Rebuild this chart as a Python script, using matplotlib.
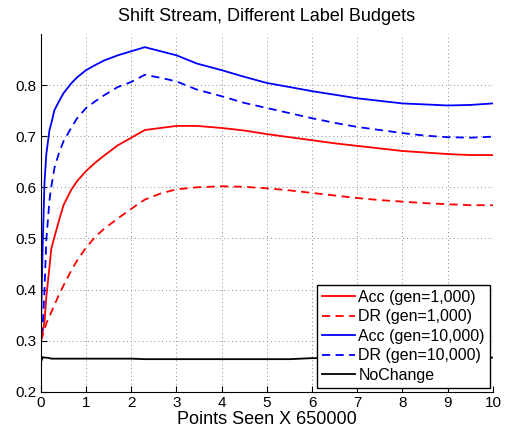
import matplotlib
matplotlib.use("Agg")
import matplotlib.pyplot as plt

plt.rcParams['font.family'] = ['Liberation Sans', 'DejaVu Sans']

# sample positions along the stream (units of 650000 points)
x = [0, 0.04, 0.08, 0.12, 0.19, 0.23, 0.3, 0.4, 0.5, 0.67, 0.8, 1.0, 1.2, 1.4, 1.7, 2.0, 2.3,
     2.65, 3.0, 3.45, 4.0, 4.5, 5.0, 5.5, 6, 6.5, 7, 7.5, 8, 8.5, 9, 9.5, 10]

acc_1k = [0.300, 0.318, 0.338, 0.386, 0.445, 0.480, 0.503, 0.535, 0.565, 0.595, 0.612, 0.632,
          0.648, 0.662, 0.682, 0.697, 0.712, 0.716, 0.720, 0.720, 0.716, 0.711, 0.704, 0.698,
          0.692, 0.686, 0.681, 0.676, 0.671, 0.668, 0.665, 0.663, 0.663]
dr_1k = [0.300, 0.310, 0.322, 0.334, 0.348, 0.356, 0.370, 0.390, 0.408, 0.437, 0.457, 0.482,
         0.503, 0.519, 0.539, 0.558, 0.576, 0.588, 0.596, 0.600, 0.602, 0.601, 0.598, 0.594,
         0.589, 0.584, 0.579, 0.575, 0.572, 0.569, 0.567, 0.565, 0.565]
acc_10k = [0.320, 0.490, 0.610, 0.665, 0.712, 0.725, 0.751, 0.768, 0.784, 0.803, 0.815, 0.829,
           0.839, 0.848, 0.858, 0.866, 0.874, 0.866, 0.858, 0.842, 0.829, 0.816, 0.804, 0.796,
           0.788, 0.781, 0.774, 0.769, 0.764, 0.762, 0.760, 0.761, 0.764]
dr_10k = [0.310, 0.330, 0.400, 0.497, 0.575, 0.601, 0.638, 0.667, 0.690, 0.716, 0.735, 0.755,
          0.768, 0.780, 0.796, 0.806, 0.820, 0.814, 0.807, 0.791, 0.778, 0.765, 0.755, 0.745,
          0.735, 0.726, 0.718, 0.712, 0.706, 0.701, 0.698, 0.697, 0.699]
no_change = [0.258, 0.268, 0.267, 0.267, 0.266, 0.265, 0.265, 0.265, 0.265, 0.265, 0.265, 0.265,
             0.265, 0.265, 0.265, 0.265, 0.264, 0.264, 0.264, 0.264, 0.264, 0.264, 0.264, 0.264,
             0.266, 0.266, 0.266, 0.266, 0.266, 0.266, 0.267, 0.267, 0.267]

series = [
    ("Acc (gen=1,000)", acc_1k, "#ff0000", "-"),
    ("DR (gen=1,000)", dr_1k, "#ff0000", "--"),
    ("Acc (gen=10,000)", acc_10k, "#0000ff", "-"),
    ("DR (gen=10,000)", dr_10k, "#0000ff", "--"),
    ("NoChange", no_change, "#000000", "-"),
]

fig = plt.figure(figsize=(5.05, 4.34), dpi=100)
ax = fig.add_axes([0.081, 0.097, 0.895, 0.825])

for label, y, color, ls in series:
    line, = ax.plot(x, y, color=color, linestyle=ls, lw=1.3, label=label)
    if ls == "--":
        line.set_dashes((4.5, 3))

ax.set_xlim(0, 10)
ax.set_ylim(0.2, 0.9)
ax.set_xticks(range(0, 11))
ax.set_yticks([0.2, 0.3, 0.4, 0.5, 0.6, 0.7, 0.8])
ax.set_yticklabels(["0.2", "0.3", "0.4", "0.5", "0.6", "0.7", "0.8"])

ax.grid(True, color="#888888", linestyle=(0, (1, 3)), lw=0.7)
ax.spines["top"].set_visible(False)
ax.spines["right"].set_visible(False)
ax.spines["left"].set_linewidth(0.8)
ax.spines["bottom"].set_linewidth(0.8)
ax.tick_params(direction="in", length=4, width=0.8, labelsize=11, pad=3)

ax.set_title("Shift Stream, Different Label Budgets", fontsize=13, pad=9)
ax.set_xlabel("Points Seen X 650000", fontsize=13, labelpad=1)

leg = ax.legend(loc="lower right", bbox_to_anchor=(0.993, 0.012), fontsize=11.5,
                frameon=True, fancybox=False, edgecolor="black", framealpha=1,
                handlelength=2.1, handletextpad=0.2, labelspacing=0.28, borderpad=0.3,
                borderaxespad=0)
leg.get_frame().set_linewidth(1.0)

fig.savefig("out.png", dpi=100)
